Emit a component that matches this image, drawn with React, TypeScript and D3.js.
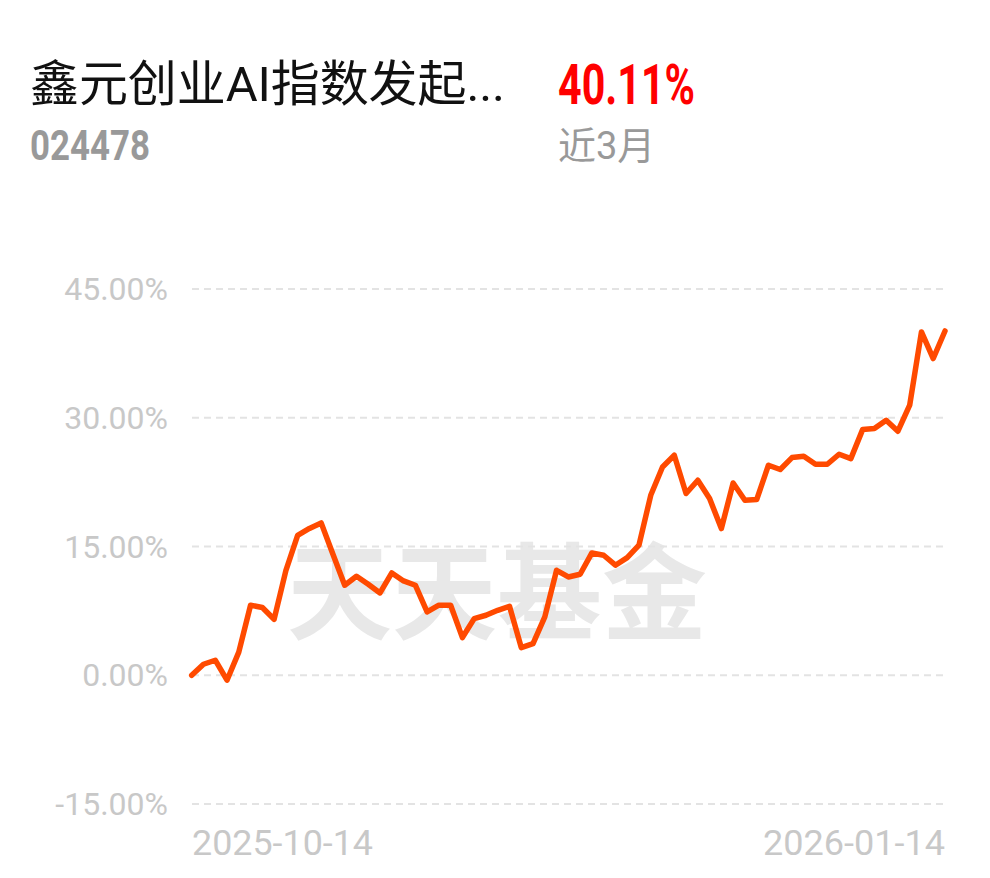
import React from "react";
import * as d3 from "d3";

const fundName = "鑫元创业AI指数发起...";
const fundCode = "024478";
const returnText = "40.11%";
const periodText = "近3月";
const watermark = "天天基金";

const yTicks = [-15, 0, 15, 30, 45];
const xLabels = ["2025-10-14", "2026-01-14"];

const returns = [
  0, 1.28, 1.75, -0.58, 2.7, 8.16, 7.89, 6.52, 12.2, 16.3,
  17.1, 17.75, 14.1, 10.49, 11.53, 10.6, 9.59, 11.92, 10.99, 10.49,
  7.38, 8.16, 8.16, 4.39, 6.6, 6.99, 7.57, 8.04, 3.22, 3.69,
  6.8, 12.23, 11.45, 11.77, 14.25, 13.98, 12.82, 13.71, 15.15, 20.97,
  24.27, 25.63, 21.17, 22.72, 20.59, 17.09, 22.4, 20.39, 20.47, 24.47,
  23.97, 25.36, 25.52, 24.58, 24.58, 25.75, 25.24, 28.62, 28.74, 29.71,
  28.43, 31.46, 40.0, 36.9, 40.11,
];

const W = 990;
const H = 878;

export default function App() {
  const x = d3.scaleLinear().domain([0, returns.length - 1]).range([191.7, 945]);
  const y = d3.scaleLinear().domain([-15, 45]).range([804, 289]);
  const line = d3
    .line<number>()
    .x((_, i) => x(i))
    .y((d) => y(d));

  const latin = "Roboto, 'Noto Sans CJK SC', sans-serif";

  return (
    <svg
      width={W}
      height={H}
      viewBox={`0 0 ${W} ${H}`}
      style={{ position: "absolute", left: 0, top: 0, background: "#fff" }}
    >
      <rect x={0} y={0} width={W} height={H} fill="#fff" />
      <text
        x={30}
        y={101}
        fontSize={49}
        fill="#111"
        fontFamily={latin}
        textLength={475}
        lengthAdjust="spacing"
      >
        {fundName}
      </text>
      <text
        x={30}
        y={160}
        fontSize={43}
        fontWeight={700}
        fill="#999"
        fontFamily={latin}
        textLength={120}
        lengthAdjust="spacingAndGlyphs"
      >
        {fundCode}
      </text>
      <text
        x={558}
        y={104}
        fontSize={55}
        fontWeight={700}
        fill="#ff0000"
        fontFamily={latin}
        textLength={137}
        lengthAdjust="spacingAndGlyphs"
      >
        {returnText}
      </text>
      <text x={558} y={159} fontSize={38} fill="#999" fontFamily={latin}>
        {periodText}
      </text>

      <text
        x={497}
        y={631}
        fontSize={105}
        fontWeight={700}
        fill="#e8e8e8"
        textAnchor="middle"
        fontFamily="'Noto Sans CJK SC', sans-serif"
      >
        {watermark}
      </text>

      {yTicks.map((t) => (
        <g key={t}>
          <line
            x1={192}
            x2={945}
            y1={y(t)}
            y2={y(t)}
            stroke="#e3e3e3"
            strokeWidth={2}
            strokeDasharray="7 5"
          />
          <text
            x={168}
            y={y(t) + 11}
            fontSize={32}
            fill="#c8c8c8"
            textAnchor="end"
            fontFamily={latin}
          >
            {`${t.toFixed(2)}%`}
          </text>
        </g>
      ))}

      <text
        x={192}
        y={855}
        fontSize={35}
        fill="#c8c8c8"
        fontFamily={latin}
        textLength={181}
        lengthAdjust="spacingAndGlyphs"
      >
        {xLabels[0]}
      </text>
      <text
        x={763}
        y={855}
        fontSize={35}
        fill="#c8c8c8"
        fontFamily={latin}
        textLength={182}
        lengthAdjust="spacingAndGlyphs"
      >
        {xLabels[1]}
      </text>

      <path
        d={line(returns) || ""}
        fill="none"
        stroke="#ff4a00"
        strokeWidth={5.5}
        strokeLinejoin="round"
        strokeLinecap="round"
      />
    </svg>
  );
}
